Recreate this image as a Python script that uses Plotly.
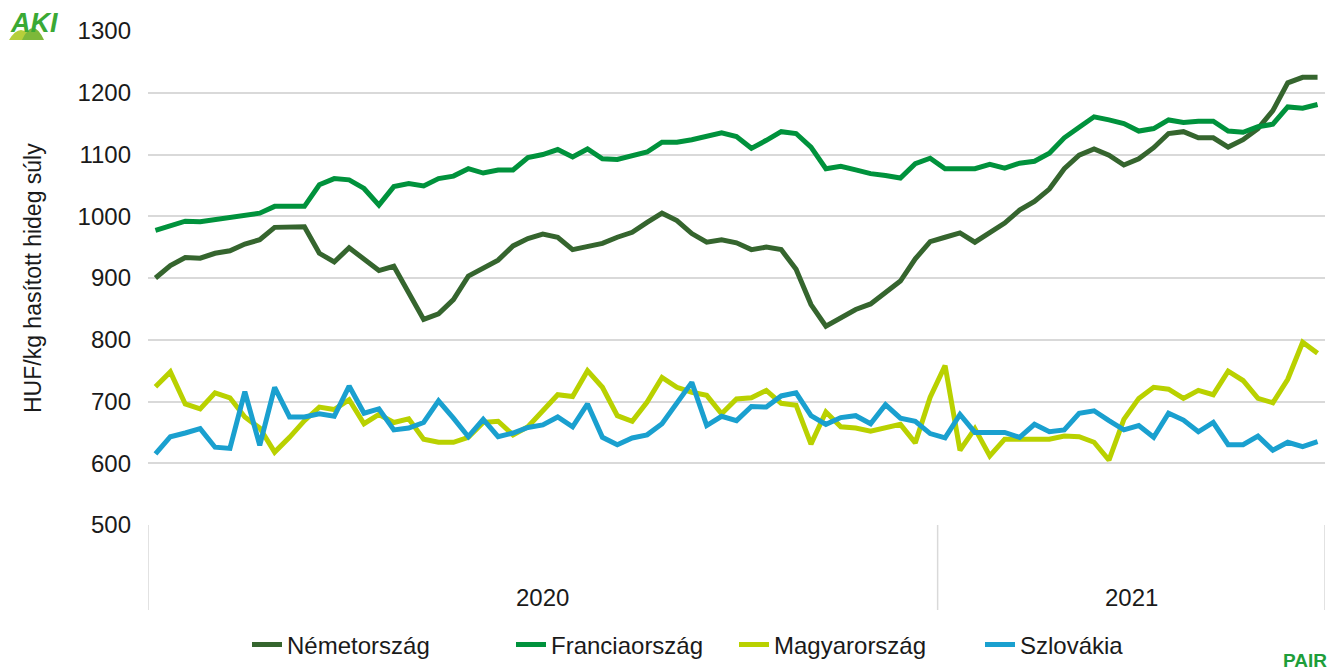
import plotly.graph_objects as go

# ---- data (weekly prices, HUF/kg) ----
years = ["2020", "2021"]
weeks_2020 = list(range(1, 54))   # 53 weeks
weeks_2021 = list(range(1, 27))   # 26 weeks

germany = [900, 920, 933, 932, 940, 944, 955, 962, 982, 982, 983, 940, 926, 949, 930, 912, 919, 874, 833, 842,
           865, 903, 916, 929, 952, 964, 971, 966, 946, 950, 956, 966, 974, 990, 1005, 993, 972, 958, 962, 957,
           946, 950, 946, 914, 857, 822, 835, 849, 858, 876, 895, 931, 959, 966, 973, 958, 974, 989, 1010, 1024,
           1044, 1077, 1099, 1109, 1099, 1083, 1093, 1111, 1134, 1137, 1127, 1127, 1112, 1124, 1142, 1171, 1216, 1225, 1225]
france = [977, 985, 992, 991, 994, 998, 1000, 1005, 1016, 1017, 1016, 1051, 1061, 1059, 1045, 1018, 1048, 1053, 1049, 1061,
          1065, 1077, 1070, 1075, 1075, 1095, 1100, 1108, 1096, 1109, 1093, 1092, 1097, 1104, 1120, 1120, 1124, 1129, 1135, 1129,
          1110, 1123, 1137, 1134, 1112, 1077, 1081, 1075, 1069, 1066, 1062, 1085, 1094, 1077, 1078, 1077, 1084, 1078, 1086, 1089,
          1102, 1127, 1144, 1161, 1156, 1150, 1138, 1142, 1156, 1152, 1154, 1154, 1138, 1136, 1145, 1149, 1177, 1175, 1181]
hungary = [724, 748, 696, 688, 714, 706, 675, 657, 618, 642, 669, 691, 687, 703, 664, 679, 666, 672, 639, 634,
           634, 642, 666, 668, 646, 659, 685, 711, 708, 750, 723, 677, 668, 699, 739, 723, 715, 710, 680, 704,
           706, 718, 697, 694, 631, 683, 659, 657, 652, 658, 663, 633, 707, 758, 621, 656, 612, 639, 639, 638,
           639, 644, 643, 634, 605, 671, 705, 723, 720, 705, 718, 711, 749, 734, 705, 698, 736, 796, 778]
slovakia = [615, 643, 649, 656, 626, 624, 716, 629, 723, 675, 675, 680, 676, 725, 681, 688, 654, 657, 666, 701,
            673, 643, 671, 643, 649, 658, 662, 675, 659, 696, 642, 630, 641, 646, 664, 696, 731, 661, 676, 669,
            692, 691, 709, 714, 677, 663, 674, 677, 664, 695, 673, 668, 648, 641, 679, 650, 649, 650, 642, 663,
            651, 654, 681, 685, 669, 654, 661, 642, 681, 670, 651, 666, 630, 630, 644, 621, 634, 627, 635]

series_names = ["Németország", "Franciaország", "Magyarország", "Szlovákia"]
series_colors = ["#35652E", "#00923C", "#B9D100", "#1AA0CF"]
y_ticks = [500, 600, 700, 800, 900, 1000, 1100, 1200, 1300]

week_labels = [f"{years[0]}-{w}" for w in weeks_2020] + [f"{years[1]}-{w}" for w in weeks_2021]
x_idx = list(range(len(week_labels)))

FONT = "Liberation Sans, Arial, sans-serif"
TXT = "#1a1a1a"

# plot area in figure pixels (page has an 8px body margin)
W, H = 1330, 663
ML, MR, MT, MB = 140, 13, 23, 146
PW = W - ML - MR
PH = H - MT - MB

# legend entry left positions (figure px)
legend_px = [239, 503, 726, 972]
legend_ids = ["legend", "legend2", "legend3", "legend4"]

fig = go.Figure()
for name, vals, col, lid in zip(series_names, [germany, france, hungary, slovakia], series_colors, legend_ids):
    fig.add_trace(go.Scatter(x=x_idx, y=vals, mode="lines", name=name, legend=lid,
                             line=dict(color=col, width=5), customdata=week_labels,
                             hovertemplate="%{customdata}: %{y}<extra>" + name + "</extra>"))

n20, n21 = len(weeks_2020), len(weeks_2021)
bounds = [-0.5, n20 - 0.5, n20 + n21 - 0.5]
sep_bottom = -85 / PH
shapes = []
for b in bounds:
    shapes.append(dict(type="line", xref="x", yref="paper", x0=b, x1=b, y0=0, y1=sep_bottom,
                       line=dict(color="#D9D9D9", width=1.5)))


# small logo mounds (page px -> paper)
def px2p(px, py):
    return ((px - 8 - ML) / PW, (H - MB - (py - 8)) / PH)


def mound(xa, xb, base, peak, color):
    x0, y0 = px2p(xa, base)
    x1, _ = px2p(xb, base)
    xm, ym = px2p((xa + xb) / 2, 2 * peak - base)
    return dict(type="path", xref="paper", yref="paper", layer="above",
                path=f"M {x0},{y0} Q {xm},{ym} {x1},{y0} Z",
                fillcolor=color, line=dict(width=0))


shapes.append(mound(9, 33, 40, 30, "#B5CF3A"))
shapes.append(mound(22, 44, 40, 28, "#7DB83A"))

year_y = -72 / PH
annotations = [
    dict(x=(bounds[0] + bounds[1]) / 2, y=year_y, xref="x", yref="paper", text=years[0],
         showarrow=False, font=dict(size=24, color=TXT, family=FONT), yanchor="middle"),
    dict(x=(bounds[1] + bounds[2]) / 2, y=year_y, xref="x", yref="paper", text=years[1],
         showarrow=False, font=dict(size=24, color=TXT, family=FONT), yanchor="middle"),
    dict(x=-115 / PW, y=0.5, xref="paper", yref="paper", text="HUF/kg hasított hideg súly",
         textangle=-90, showarrow=False, font=dict(size=23, color=TXT, family=FONT),
         xanchor="center", yanchor="middle"),
    dict(x=-114 / PW, y=1 + 8 / PH, xref="paper", yref="paper", text="<b><i>AKI</i></b>",
         showarrow=False, font=dict(size=27, color="#3AA935", family=FONT),
         xanchor="center", yanchor="middle"),
    dict(x=1157 / PW, y=-135 / PH, xref="paper", yref="paper", text="<b>PAIR</b>",
         showarrow=False, font=dict(size=19, color="#1E9E3A", family=FONT),
         xanchor="center", yanchor="middle"),
]

layout_legends = {}
for lid, px in zip(legend_ids, legend_px):
    layout_legends[lid] = dict(orientation="h", x=(px - ML) / PW, xanchor="left",
                               y=-120 / PH, yanchor="middle", bgcolor="rgba(0,0,0,0)",
                               font=dict(size=24, family=FONT, color=TXT))

fig.update_layout(
    width=W, height=H,
    margin=dict(l=ML, r=MR, t=MT, b=MB, autoexpand=False),
    paper_bgcolor="white", plot_bgcolor="white",
    font=dict(family=FONT, size=24, color=TXT),
    showlegend=True,
    xaxis=dict(range=[bounds[0], bounds[2]], showticklabels=False, showgrid=False,
               zeroline=False, showline=False, ticks="", automargin=False),
    yaxis=dict(range=[500, 1300], tickvals=y_ticks, showgrid=True, gridcolor="#D9D9D9",
               gridwidth=1.5, zeroline=False, showline=False, ticks="", automargin=False,
               tickfont=dict(size=24, family=FONT, color=TXT), ticklabelstandoff=16),
    shapes=shapes,
    annotations=annotations,
    **layout_legends,
)

fig.write_html("out.html")
